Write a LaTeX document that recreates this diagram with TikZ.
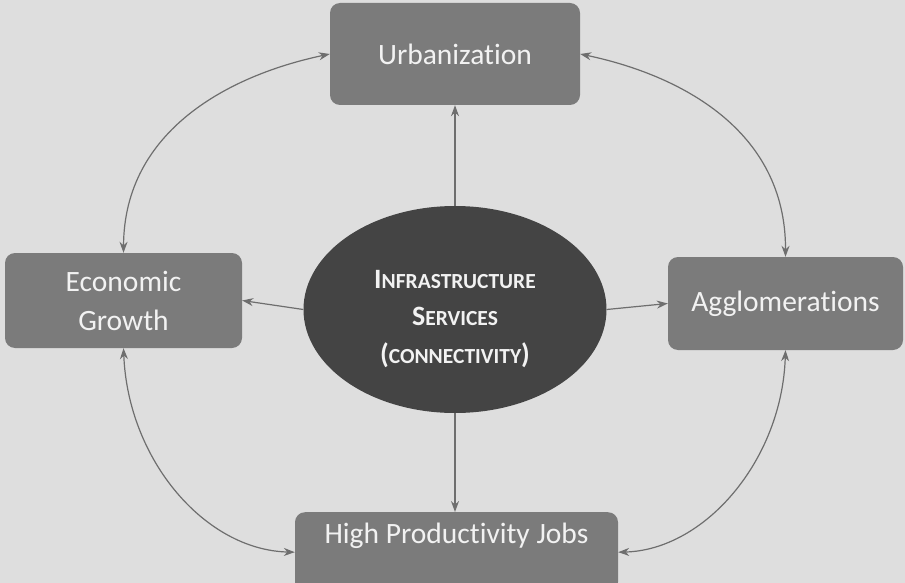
\documentclass[tikz,border=0pt]{standalone}
\usepackage{fontspec}
\setmainfont[Ligatures=NoCommon]{Carlito}
\usetikzlibrary{shapes.geometric,arrows.meta}
\definecolor{bgc}{HTML}{DEDEDE}
\definecolor{boxc}{HTML}{7B7B7B}
\definecolor{ellc}{HTML}{444444}
\definecolor{txtc}{HTML}{F2F2F2}
\definecolor{arrc}{HTML}{6E6E6E}
\newcommand{\scbig}[1]{{\fontsize{28}{38}\selectfont #1}}
\begin{document}
\begin{tikzpicture}[x=1pt,y=-1pt,
  box/.style={draw=none, fill=boxc, rounded corners=10pt, text=txtc, align=center,
    font=\fontsize{29.5}{39}\selectfont, inner sep=0pt},
  lbl/.style={text=txtc, font=\fontsize{29.5}{39}\selectfont, inner sep=0pt},
  ellnode/.style={ellipse, fill=ellc, draw=none, inner sep=0pt},
  elllbl/.style={text=txtc, align=center, inner sep=0pt,
    font=\fontsize{21.5}{37.5}\selectfont\bfseries},
  sgl/.style={draw=arrc, line width=1.2pt, -{Stealth[length=11pt,width=8pt]}},
  dbl/.style={draw=arrc, line width=1.2pt, {Stealth[length=11pt,width=8pt]}-{Stealth[length=11pt,width=8pt]}}
]
\useasboundingbox (0,0) rectangle (905,583);
\clip (0,0) rectangle (905,583);
\fill[bgc] (0,0) rectangle (905,583);

\node[box, minimum width=250pt, minimum height=102pt] (urb) at (455,54) {Urbanization};
\node[box, minimum width=237pt, minimum height=95pt] (econ) at (123.5,300.5) {Economic\\Growth};
\node[box, minimum width=235pt, minimum height=93pt] (agg) at (785.5,303.5) {Agglomerations};
\node[box, anchor=north, minimum width=323pt, minimum height=80pt] (hpj) at (456.5,512) {};
\node[lbl] (hpjtext) at (456.5,536) {High Productivity Jobs};

\node[ellnode, minimum width=303pt, minimum height=207pt] (ell) at (455,309.5) {};
\node[elllbl] (elltext) at (455,319)
  {\scbig{I}NFRASTRUCTURE\\\scbig{S}ERVICES\\\scbig{(}CONNECTIVITY\scbig{)}};

\draw[sgl] (ell.north) -- (urb.south);
\draw[sgl] (ell.south) -- (hpj.north -| ell.south);
\draw[sgl] (ell.west) -- (econ.east);
\draw[sgl] (ell.east) -- (agg.west);

\draw[dbl] (urb.west) .. controls (230,75) and (124,130) .. (econ.north);
\draw[dbl] (urb.east) .. controls (680,75) and (786,130) .. (agg.north);
\draw[dbl] (econ.south) .. controls (128,460) and (205,550) .. (hpj.west);
\draw[dbl] (agg.south) .. controls (782,460) and (705,550) .. (hpj.east);
\end{tikzpicture}
\end{document}
